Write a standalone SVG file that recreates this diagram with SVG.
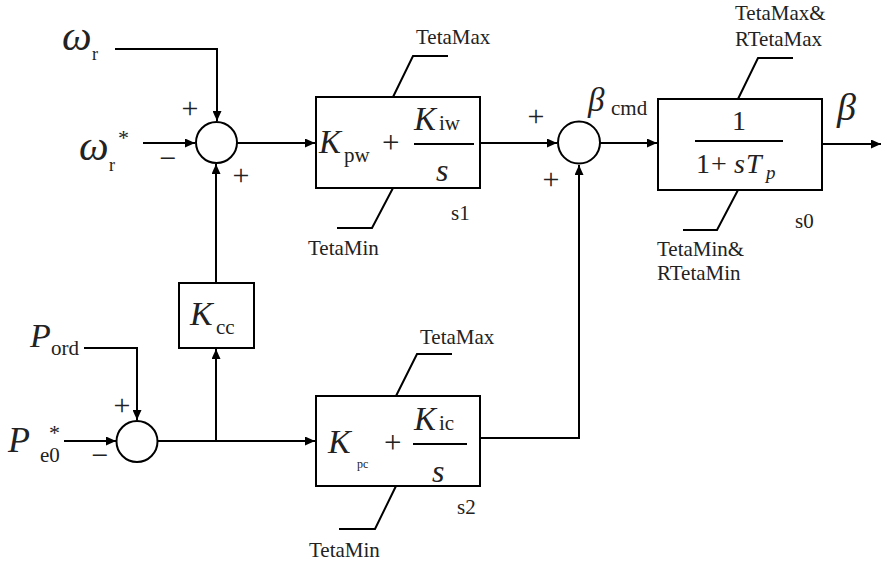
<svg xmlns="http://www.w3.org/2000/svg" width="884" height="562" viewBox="0 0 884 562">
<style>
.ln{fill:none;stroke:#000;stroke-width:2}
.bx{fill:#fff;stroke:#000;stroke-width:2}
.t{font-family:"Liberation Serif","Times New Roman","DejaVu Serif",serif;fill:#222}
.i{font-style:italic}
.sm{font-size:21px}
.sg{font-size:30px;text-anchor:middle}
</style>
<defs>
<marker id="ah" markerUnits="userSpaceOnUse" markerWidth="11" markerHeight="9" refX="10" refY="4.5" orient="auto">
<path d="M0,0 L10,4.5 L0,9 z" fill="#000"/>
</marker>
</defs>
<rect width="884" height="562" fill="#fff"/>
<g id="connectors">
<path class="ln" d="M115,49 H217 V121" marker-end="url(#ah)"/>
<path class="ln" d="M143,143 H195" marker-end="url(#ah)"/>
<path class="ln" d="M237,143 H315" marker-end="url(#ah)"/>
<path class="ln" d="M480,143 H557" marker-end="url(#ah)"/>
<path class="ln" d="M600,143 H657" marker-end="url(#ah)"/>
<path class="ln" d="M822,144 H881" marker-end="url(#ah)"/>
<path class="ln" d="M216,283 V164" marker-end="url(#ah)"/>
<path class="ln" d="M216,441 V349" marker-end="url(#ah)"/>
<path class="ln" d="M84,348 H137 V420" marker-end="url(#ah)"/>
<path class="ln" d="M64,441 H116" marker-end="url(#ah)"/>
<path class="ln" d="M157,441 H315" marker-end="url(#ah)"/>
<path class="ln" d="M480,438 H579 V165" marker-end="url(#ah)"/>
</g>
<g id="in_wr">
<text class="t i" x="62" y="50" font-size="42">ω</text>
<text class="t" x="92" y="60" font-size="18">r</text>
</g>
<g id="in_wrs">
<text class="t i" x="79" y="160" font-size="42">ω</text>
<text class="t" x="109" y="171" font-size="18">r</text>
<text class="t" x="118" y="145" font-size="22">*</text>
</g>
<g id="sum1">
<circle class="bx" cx="216.5" cy="142.5" r="20.5"/>
<text class="t sg" x="190" y="118">+</text>
<text class="t sg" x="168" y="168">−</text>
<text class="t sg" x="241" y="185">+</text>
</g>
<g id="s1">
<rect class="bx" x="316" y="97" width="164" height="91"/>
<text class="t i" x="319" y="153" font-size="33">K</text>
<text class="t" x="344" y="162" font-size="21">pw</text>
<text class="t" x="382" y="153" font-size="31">+</text>
<text class="t i" x="414" y="130" font-size="33">K</text>
<text class="t" x="439" y="130" font-size="21">iw</text>
<line class="ln" x1="414" y1="144" x2="474" y2="144"/>
<text class="t i" x="436" y="181" font-size="32">s</text>
<path class="ln" d="M393,97 L413,56 H448"/>
<path class="ln" d="M393,188 L372,228 H337"/>
<text class="t sm" x="416" y="44">TetaMax</text>
<text class="t sm" x="308" y="255">TetaMin</text>
<text class="t sm" x="451" y="220">s1</text>
</g>
<g id="sum2">
<circle class="bx" cx="579" cy="142.5" r="21"/>
<text class="t sg" x="536" y="126">+</text>
<text class="t sg" x="551" y="189">+</text>
<text class="t i" x="588" y="111" font-size="33">β</text>
<text class="t" x="611" y="115" font-size="21">cmd</text>
</g>
<g id="s0">
<rect class="bx" x="658" y="99" width="164" height="91"/>
<text class="t" x="732" y="130" font-size="28">1</text>
<line class="ln" x1="695" y1="141" x2="783" y2="141"/>
<text class="t" x="696" y="173" font-size="28">1</text>
<text class="t" x="711" y="173" font-size="28">+</text>
<text class="t i" x="734" y="173" font-size="28">s</text>
<text class="t i" x="746" y="173" font-size="28">T</text>
<text class="t i" x="766" y="179" font-size="19">p</text>
<path class="ln" d="M738,99 L758,58 H793"/>
<path class="ln" d="M738,190 L717,230 H683"/>
<text class="t sm" x="735" y="20">TetaMax&amp;</text>
<text class="t sm" x="735" y="46">RTetaMax</text>
<text class="t sm" x="657" y="256">TetaMin&amp;</text>
<text class="t sm" x="657" y="280">RTetaMin</text>
<text class="t sm" x="795" y="228">s0</text>
<text class="t i" x="837" y="120" font-size="38">β</text>
</g>
<g id="kcc">
<rect class="bx" x="179" y="283" width="75" height="65"/>
<text class="t i" x="190" y="325" font-size="34">K</text>
<text class="t" x="216" y="334" font-size="21">cc</text>
</g>
<g id="in_pord">
<text class="t i" x="30" y="347" font-size="34">P</text>
<text class="t" x="51" y="355" font-size="21">ord</text>
</g>
<g id="in_pe0">
<text class="t i" x="8" y="452" font-size="36">P</text>
<text class="t" x="40" y="462" font-size="21">e0</text>
<text class="t" x="49" y="440" font-size="22">*</text>
</g>
<g id="sum3">
<circle class="bx" cx="137" cy="441.5" r="20.5"/>
<text class="t sg" x="122" y="415">+</text>
<text class="t sg" x="100" y="465">−</text>
</g>
<g id="s2">
<rect class="bx" x="316" y="396" width="164" height="90"/>
<text class="t i" x="328" y="453" font-size="34">K</text>
<text class="t" x="357" y="468" font-size="12">pc</text>
<text class="t" x="384" y="453" font-size="31">+</text>
<text class="t i" x="414" y="430" font-size="33">K</text>
<text class="t" x="439" y="430" font-size="21">ic</text>
<line class="ln" x1="413" y1="444" x2="467" y2="444"/>
<text class="t i" x="432" y="482" font-size="32">s</text>
<path class="ln" d="M396,396 L417,354 H452"/>
<path class="ln" d="M396,486 L375,529 H339"/>
<text class="t sm" x="420" y="344">TetaMax</text>
<text class="t sm" x="309" y="557">TetaMin</text>
<text class="t sm" x="457" y="514">s2</text>
</g>
</svg>
